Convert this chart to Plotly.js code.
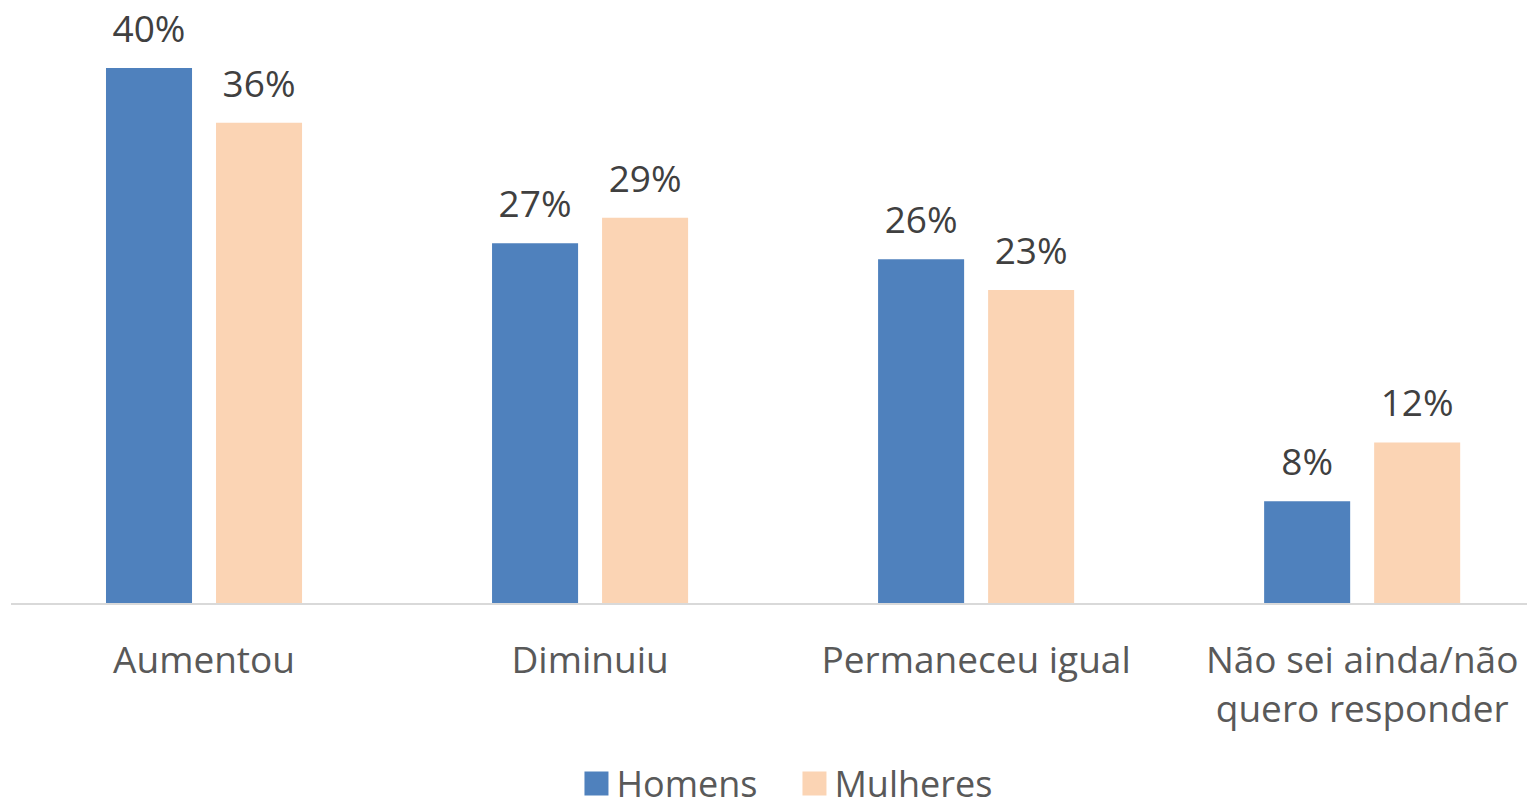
<!DOCTYPE html>
<html>
<head>
<meta charset="utf-8">
<script src="https://cdn.plot.ly/plotly-3.0.1.min.js"></script>
<style>html,body{margin:0;padding:0;background:#fff;}#chart{width:1527px;height:800px;}</style>
</head>
<body>
<div id="chart"></div>
<script>
const categories = ["Aumentou", "Diminuiu", "Permaneceu igual", "Não sei ainda/não<br>quero responder"];
const seriesNames = ["Homens", "Mulheres"];
const homens = [40, 26.9, 25.7, 7.6];
const mulheres = [35.9, 28.8, 23.4, 12.0];
const colors = ["#4F81BD", "#FBD4B4"];

const font = "'Open Sans', 'Noto Sans', sans-serif";
const traces = [homens, mulheres].map((vals, i) => ({
  type: "bar",
  name: seriesNames[i],
  x: categories,
  y: vals,
  marker: {color: colors[i]},
  text: vals.map(v => Math.round(v) + "%"),
  textposition: "outside",
  cliponaxis: false,
  textfont: {family: font, size: 37, color: "#404040"},
  hoverinfo: "skip"
}));

const layout = {
  width: 1527, height: 800,
  margin: {l: 11, r: 0, t: 1, b: 197, autoexpand: false},
  paper_bgcolor: "#fff", plot_bgcolor: "#fff",
  barmode: "group",
  bargap: 0.43,
  bargroupgap: 0.218,
  showlegend: true,
  legend: {orientation: "h", x: 0.5168, xanchor: "center", y: -0.25, yanchor: "top",
           entrywidth: 173,
           font: {family: font, size: 36, color: "#595959"}, traceorder: "normal"},
  xaxis: {
    range: [-0.5, 3.427],
    automargin: false,
    showline: true, linecolor: "#D9D9D9", linewidth: 2,
    ticks: "", showgrid: false, zeroline: false,
    tickfont: {family: font, size: 37, color: "#595959"},
    ticklabelstandoff: 24
  },
  yaxis: {range: [0, 45], visible: false, showgrid: false, zeroline: false, fixedrange: true, automargin: false}
};

Plotly.newPlot("chart", traces, layout, {displayModeBar: false, staticPlot: true}).then(() => {
  document.querySelectorAll(".legendpoints path").forEach(p => {
    p.setAttribute("d", "M12,12H-12V-12H12Z");
    p.style.strokeWidth = "0";
  });
  document.querySelectorAll("text.bartext").forEach(t => {
    const tr = t.getAttribute("transform") || "";
    t.setAttribute("transform", "translate(0,-12) " + tr);
  });
});
</script>
</body>
</html>
